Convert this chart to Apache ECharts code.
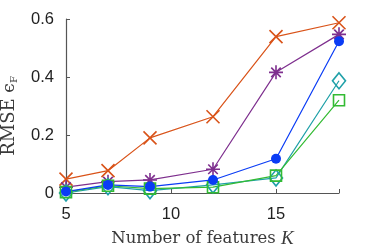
<!DOCTYPE html>
<html>
<head>
<meta charset="utf-8">
<script src="https://cdn.jsdelivr.net/npm/echarts@6/dist/echarts.min.js"></script>
<style>html,body{margin:0;padding:0;background:#fff;}#c{width:374px;height:249px;}</style>
</head>
<body>
<div id="c"></div>
<script>
const features = [5, 7, 9, 12, 15, 18];
const seriesRed    = [0.048, 0.077, 0.190, 0.263, 0.539, 0.587];
const seriesPurple = [0.020, 0.039, 0.045, 0.082, 0.416, 0.547];
const seriesTeal   = [0.000, 0.022, 0.008, 0.028, 0.052, 0.387];
const seriesGreen  = [0.003, 0.025, 0.015, 0.020, 0.060, 0.320];
const seriesBlue   = [0.005, 0.028, 0.022, 0.045, 0.118, 0.523];
const yTicks = [0, 0.2, 0.4, 0.6];
const xTicks = [5, 10, 15];

const pairs = arr => features.map((x, i) => [x, arr[i]]);
const crossPath = 'path://M0,0L10,10M10,0L0,10';
const starPath = 'path://M5,0L5,10M0,5L10,5M1.6,1.6L8.4,8.4M8.4,1.6L1.6,8.4';

function mk(name, data, color, symbol, size, filled) {
  return {
    name, type: 'line', data: pairs(data), symbol, symbolSize: size,
    lineStyle: { color, width: 1.2 },
    itemStyle: filled ? { color, borderColor: color, borderWidth: 0 }
                      : { color: 'rgba(0,0,0,0)', borderColor: color, borderWidth: 1.6 },
    animation: false, z: 2
  };
}

const serif = 'DejaVu Serif, Liberation Serif, serif';
const chart = echarts.init(document.getElementById('c'));
chart.setOption({
  animation: false,
  grid: { left: 66, right: 35, top: 19, bottom: 56, containLabel: false, outerBoundsMode: 'none' },
  xAxis: {
    type: 'value', min: 5, max: 18, interval: 5,
    name: '{n|Number of features }{k|K}', nameLocation: 'middle', nameGap: 36,
    nameTextStyle: { rich: {
      n: { fontFamily: serif, fontSize: 16.5, color: '#3a3a3a' },
      k: { fontFamily: 'Liberation Serif, serif', fontStyle: 'italic', fontSize: 19, color: '#3a3a3a' }
    }},
    axisLine: { show: true, lineStyle: { color: '#555', width: 1.2 } },
    axisTick: { show: true, inside: true, length: 4, lineStyle: { color: '#555' } },
    axisLabel: { fontFamily: 'Liberation Sans, Arial, sans-serif', fontSize: 16.5, color: '#222', margin: 13,
      formatter: v => xTicks.includes(v) ? String(v) : '' },
    splitLine: { show: false }
  },
  yAxis: {
    type: 'value', min: 0, max: 0.6, interval: 0.2,
    name: '{n|RMSE }{e|ϵ}{s|F}{p|}', nameLocation: 'middle', nameGap: 47, nameRotate: 90,
    nameTextStyle: { rich: {
      n: { fontFamily: serif, fontSize: 18, color: '#3a3a3a' },
      e: { fontFamily: serif, fontSize: 17, color: '#3a3a3a' },
      s: { fontFamily: serif, fontSize: 10, color: '#3a3a3a', verticalAlign: 'bottom', padding: [9, 0, 0, 0] },
      p: { width: 20, fontSize: 10 }
    }},
    axisLine: { show: true, lineStyle: { color: '#555', width: 1.2 } },
    axisTick: { show: true, inside: true, length: 4, lineStyle: { color: '#555' } },
    axisLabel: { fontFamily: 'Liberation Sans, Arial, sans-serif', fontSize: 16.5, color: '#222', margin: 12,
      formatter: v => { const t = yTicks.find(y => Math.abs(y - v) < 1e-9); return t === undefined ? '' : (t === 0 ? '0' : t.toFixed(1)); } },
    splitLine: { show: false }
  },
  series: [
    mk('red', seriesRed, '#D95319', crossPath, 13, false),
    mk('purple', seriesPurple, '#7E2F8E', starPath, 14, false),
    mk('teal', seriesTeal, '#1FA0A8', 'diamond', [13, 16], false),
    mk('green', seriesGreen, '#33BB33', 'rect', 11, false),
    mk('blue', seriesBlue, '#0A3CF5', 'circle', 10, true)
  ]
});
</script>
</body>
</html>
